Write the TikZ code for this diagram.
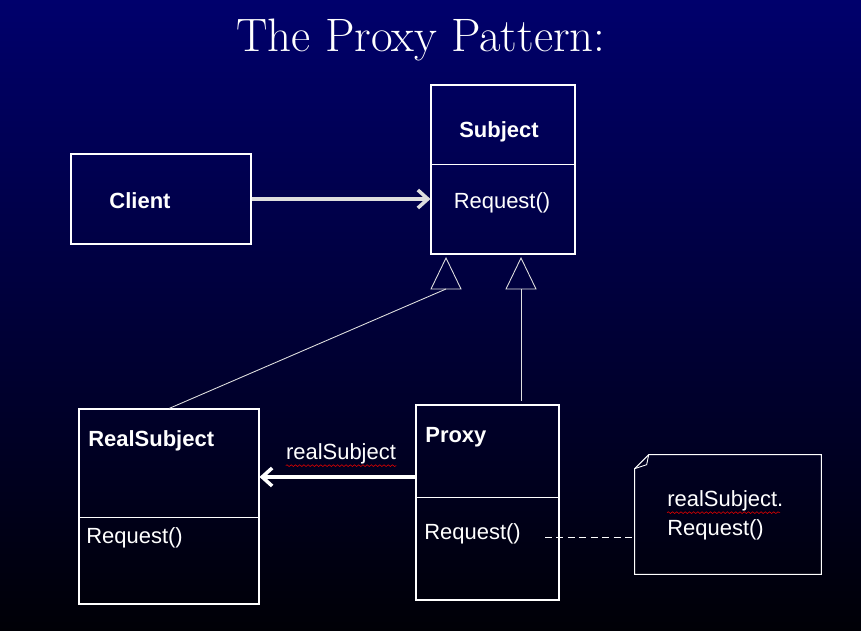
\documentclass[tikz,border=0pt]{standalone}
\usepackage{fontspec}
\setsansfont{Liberation Sans}
\usetikzlibrary{arrows.meta}
\usetikzlibrary{decorations.pathmorphing}
\definecolor{slidetop}{RGB}{0,0,108}
\definecolor{slidebot}{RGB}{0,0,6}
\definecolor{assocgray}{RGB}{222,222,222}

\begin{document}
\begin{tikzpicture}[x=0.02cm,y=-0.02cm,
  umlbox/.style={draw=white,line width=0.6pt,inner sep=0pt},
  boxtext/.style={text=white,font=\sffamily\fontsize{12.5}{15}\selectfont,inner sep=0pt},
  boldtext/.style={boxtext,font=\sffamily\bfseries\fontsize{12.5}{15}\selectfont},
  genline/.style={draw=white!88!black,line width=0.5pt},
  spell/.style={draw=red!85!black,line width=0.35pt,decorate,decoration={snake,amplitude=0.5pt,segment length=2.4pt}}]
				\def\divs{1.6cm};
				\def\divr{2.18cm};
				\def\divp{1.86cm};
				% background
				\shade[top color=slidetop,bottom color=slidebot] (0,0) rectangle (861,631);
				\useasboundingbox (0,0) rectangle (861,631);
				\node[text=white,font=\fontsize{26.7}{31}\selectfont,anchor=base] (title) at (421,52) {The Proxy Pattern:};
				% classes
				\node[umlbox,minimum width=2.88cm,minimum height=3.38cm] (subject) at (503,169.5) {};
				\node[umlbox,minimum width=3.6cm,minimum height=1.8cm] (client) at (161,199) {};
				\node[umlbox,minimum width=3.6cm,minimum height=3.9cm] (realsub) at (169,506.5) {};
				\node[umlbox,minimum width=2.86cm,minimum height=3.9cm] (proxy) at (487.5,502.5) {};
				\node[minimum width=3.72cm,minimum height=2.38cm,inner sep=0pt] (note) at (728,514.5) {};
				\draw[white,line width=0.6pt]
				([yshift=-\divs]subject.north west) -- ([yshift=-\divs]subject.north east)
				([yshift=-\divr]realsub.north west) -- ([yshift=-\divr]realsub.north east)
				([yshift=-\divp]proxy.north west) -- ([yshift=-\divp]proxy.north east);
				\draw[white,line width=0.6pt] ([xshift=0.28cm]note.north west) -- (note.north east) -- (note.south east)
				-- (note.south west) -- ([yshift=-0.28cm]note.north west) -- cycle;
				\draw[white,line width=0.5pt] ([yshift=-0.28cm]note.north west) -- ([xshift=0.24cm,yshift=-0.2cm]note.north west) -- ([xshift=0.28cm]note.north west);
				% texts
				\node[boldtext] (subjname) at (499,132) {Subject};
				\node[boxtext] (subjop) at (502,203) {Request()};
				\node[boldtext] (clientname) at (140,201) {Client};
				\node[boldtext,anchor=west] (realname) at (88,441) {RealSubject};
				\node[boxtext,anchor=west] (realop) at (86,538) {Request()};
				\node[boldtext,anchor=west] (proxyname) at (425,437) {Proxy};
				\node[boxtext,anchor=west] (proxyop) at (424,534) {Request()};
				\node[boxtext] (rolename) at (341,454) {realSubject};
				\node[boxtext,anchor=west] (notea) at (667,501) {realSubject.};
				\node[boxtext,anchor=west] (noteb) at (667,530) {Request()};
				\draw[spell] ([yshift=-0.6pt]rolename.south west) -- ([yshift=-0.6pt]rolename.south east);
				\draw[spell] ([yshift=-0.6pt]notea.south west) -- ([yshift=-0.6pt,xshift=-2pt]notea.south east);
				% associations
				\draw[assocgray,line width=2pt,-{Straight Barb[length=2mm,width=3.6mm]}] (client.east) -- (client.east -| subject.west);
				\coordinate (ptr) at ([yshift=0.51cm]proxy.west);
				\draw[white,line width=2pt,-{Straight Barb[length=2mm,width=3.6mm]}] (ptr) -- (ptr -| realsub.east);
				% generalizations
				\coordinate (genl) at (446,289);
				\coordinate (genr) at (521,289);
				\draw[genline] (genl) -- ++(-15,0) -- ++(15,-31) -- ++(15,31) -- cycle;
				\draw[genline] (genr) -- ++(-15,0) -- ++(15,-31) -- ++(15,31) -- cycle;
				\draw[genline] (realsub.north) -- (genl);
				\draw[genline] (genr) -- ([yshift=0.06cm]genr |- proxy.north);
				% note link
				\coordinate (opend) at (545,537);
				\draw[white,line width=0.4pt,dash pattern=on 4pt off 2.5pt] (opend) -- (opend -| note.west);
			\end{tikzpicture}
\end{document}
